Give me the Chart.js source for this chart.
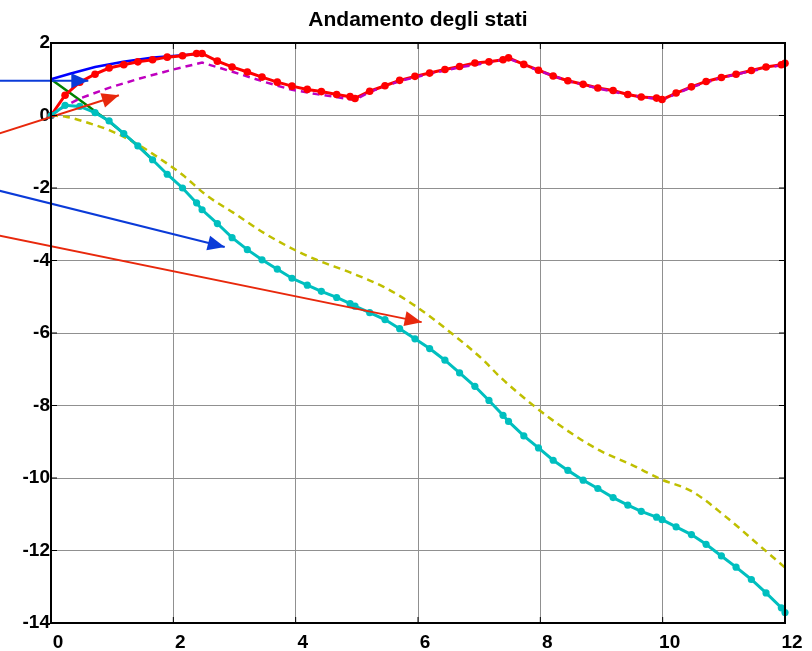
<!DOCTYPE html>
<html>
<head>
<meta charset="utf-8">
<script src="https://cdn.jsdelivr.net/npm/chart.js@4/dist/chart.umd.min.js"></script>
<style>
  html, body { margin: 0; padding: 0; background: #fff; }
  #c { display: block; }
</style>
</head>
<body>
<canvas id="c" width="812" height="651"></canvas>
<script>
// ---- data ----
const titleText = 'Andamento degli stati';
const xTicks = [0, 2, 4, 6, 8, 10, 12];
const yTicks = [-14, -12, -10, -8, -6, -4, -2, 0, 2];

// solver time grid (marker positions)
const tGrid = [0,0.23,0.47,0.72,0.95,1.19,1.42,1.66,1.90,2.15,2.38,2.47,2.72,2.96,3.21,3.45,3.70,3.94,4.19,4.42,4.67,4.89,4.97,5.21,5.46,5.70,5.95,6.19,6.44,6.68,6.93,7.16,7.39,7.48,7.73,7.97,8.21,8.45,8.70,8.94,9.19,9.43,9.65,9.90,9.99,10.22,10.47,10.71,10.96,11.20,11.45,11.69,11.94,12.0];
// red state with markers
const redVals = [0,0.56,0.92,1.14,1.31,1.40,1.48,1.54,1.61,1.65,1.71,1.71,1.50,1.34,1.20,1.06,0.92,0.81,0.72,0.66,0.58,0.52,0.47,0.67,0.82,0.97,1.08,1.17,1.27,1.35,1.45,1.48,1.54,1.59,1.41,1.25,1.09,0.96,0.86,0.76,0.69,0.58,0.51,0.48,0.44,0.62,0.79,0.94,1.05,1.14,1.24,1.34,1.40,1.44];
// cyan state with markers
const cyanVals = [0,0.28,0.25,0.08,-0.15,-0.50,-0.84,-1.22,-1.62,-2.00,-2.41,-2.60,-2.98,-3.37,-3.70,-3.98,-4.24,-4.49,-4.68,-4.85,-5.02,-5.19,-5.26,-5.44,-5.63,-5.88,-6.16,-6.43,-6.75,-7.10,-7.47,-7.86,-8.27,-8.44,-8.84,-9.17,-9.51,-9.79,-10.06,-10.29,-10.54,-10.75,-10.92,-11.08,-11.15,-11.35,-11.56,-11.83,-12.15,-12.46,-12.80,-13.17,-13.58,-13.71];

// blue solid
const blueX = [0,0.31,0.72,1.18,1.67,2.15,2.47];
const blueY = [1.0,1.15,1.34,1.48,1.60,1.66,1.71];
// green solid
const greenX = [0,0.47,0.96,1.19,1.42,1.66];
const greenY = [1.0,0.43,-0.18,-0.50,-0.84,-1.22];
// magenta dashed
const magX = [0,0.2,0.47,0.96,1.45,2.0,2.47,2.98,3.5,3.94,4.34,4.97,5.21,5.70,6.19,6.68,7.16,7.48,7.97,8.45,8.94,9.43,9.99,10.47,10.96,11.45,11.94,12.0];
const magY = [0,0.23,0.47,0.77,1.02,1.27,1.46,1.20,0.92,0.71,0.59,0.43,0.65,0.95,1.15,1.33,1.46,1.57,1.24,0.95,0.75,0.57,0.43,0.78,1.04,1.23,1.39,1.43];
// yellow dashed
const yelX = [0,0.26,0.64,0.96,1.40,1.78,2.16,2.54,2.98,3.52,4.07,4.34,4.89,5.43,5.98,6.52,7.07,7.34,7.88,8.43,8.97,9.51,9.95,10.49,11.04,11.58,12.0];
const yelY = [0,-0.04,-0.22,-0.41,-0.78,-1.19,-1.65,-2.20,-2.68,-3.28,-3.78,-3.98,-4.33,-4.72,-5.28,-5.97,-6.75,-7.21,-7.99,-8.68,-9.24,-9.65,-10.02,-10.38,-11.08,-11.86,-12.47];

// arrows (start, tip)
const arrow1X = [-1.0, 0.61];  const arrow1Y = [0.96, 0.96];
const arrow2X = [-1.0, 1.11];  const arrow2Y = [-0.58, 0.56];
const arrow3X = [-1.0, 2.84];  const arrow3Y = [-2.01, -3.63];
const arrow4X = [-1.0, 6.06];  const arrow4Y = [-3.26, -5.70];

// ---- helpers ----
const pts = (xs, ys) => xs.map((x, i) => ({ x: x, y: ys[i] }));

const C_RED = '#ff0000', C_CYAN = '#00bfbf', C_BLUE = '#0000ff', C_GREEN = '#008000',
      C_MAG = '#bf00bf', C_YEL = '#bfbf00', C_ARB = '#0b3bd8', C_ARR = '#e8280c';

function lineDs(data, color, width, extra) {
  return Object.assign({
    data: data, showLine: true, borderColor: color, backgroundColor: color,
    borderWidth: width, pointRadius: 0, pointHoverRadius: 0, tension: 0, clip: false
  }, extra || {});
}

const datasets = [
  lineDs(pts(blueX, blueY), C_BLUE, 2.5, { order: 9 }),
  lineDs(pts(greenX, greenY), C_GREEN, 2.5, { order: 9 }),
  lineDs(pts(yelX, yelY), C_YEL, 2.5, { order: 8, borderDash: [7, 5], cubicInterpolationMode: 'monotone' }),
  lineDs(pts(tGrid, redVals), C_RED, 3, { order: 7 }),
  lineDs(pts(magX, magY), C_MAG, 2.5, { order: 6, borderDash: [7, 5] }),
  lineDs(pts(tGrid, redVals), C_RED, 0, { order: 5, showLine: false, pointRadius: 3.8, pointBorderWidth: 0 }),
  lineDs(pts(tGrid, cyanVals), C_CYAN, 3, { order: 4, pointRadius: 3.6, pointBorderWidth: 0 }),
  lineDs(pts(arrow1X, arrow1Y), C_ARB, 2, { order: 1, arrow: true }),
  lineDs(pts(arrow2X, arrow2Y), C_ARR, 2, { order: 1, arrow: true }),
  lineDs(pts(arrow3X, arrow3Y), C_ARB, 2, { order: 1, arrow: true }),
  lineDs(pts(arrow4X, arrow4Y), C_ARR, 2, { order: 1, arrow: true })
];

const framePlugin = {
  id: 'frame',
  beforeDraw(chart) {
    const ctx = chart.ctx;
    ctx.save();
    ctx.fillStyle = '#fff';
    ctx.fillRect(0, 0, chart.width, chart.height);
    ctx.restore();
  },
  afterDatasetsDraw(chart) {
    const ctx = chart.ctx;
    chart.data.datasets.forEach((ds, i) => {
      if (!ds.arrow) return;
      const meta = chart.getDatasetMeta(i);
      const n = meta.data.length;
      const p0 = meta.data[n - 2], p1 = meta.data[n - 1];
      const ang = Math.atan2(p1.y - p0.y, p1.x - p0.x);
      const L = 17, W = 7.5;
      ctx.save();
      ctx.translate(p1.x, p1.y);
      ctx.rotate(ang);
      ctx.beginPath();
      ctx.moveTo(0, 0);
      ctx.lineTo(-L, -W);
      ctx.lineTo(-L, W);
      ctx.closePath();
      ctx.fillStyle = ds.borderColor;
      ctx.fill();
      ctx.restore();
    });
  },
  afterDraw(chart) {
    const ctx = chart.ctx;
    const a = chart.chartArea;
    const xs = chart.scales.x, ys = chart.scales.y;
    ctx.save();
    ctx.strokeStyle = '#000';
    ctx.lineWidth = 1;
    ctx.beginPath();
    xTicks.forEach(v => {
      const px = xs.getPixelForValue(v);
      ctx.moveTo(px, a.bottom); ctx.lineTo(px, a.bottom - 6);
      ctx.moveTo(px, a.top); ctx.lineTo(px, a.top + 6);
    });
    yTicks.forEach(v => {
      const py = ys.getPixelForValue(v);
      ctx.moveTo(a.left, py); ctx.lineTo(a.left + 6, py);
      ctx.moveTo(a.right, py); ctx.lineTo(a.right - 6, py);
    });
    ctx.stroke();
    ctx.lineWidth = 2;
    ctx.strokeRect(a.left, a.top, a.right - a.left, a.bottom - a.top);
    ctx.restore();
  }
};

const tickFont = { family: "'Liberation Sans', Arial, sans-serif", size: 19, weight: 'bold' };

new Chart(document.getElementById('c'), {
  type: 'scatter',
  data: { datasets: datasets },
  options: {
    responsive: false,
    animation: false,
    events: [],
    layout: { padding: { left: 0, right: 27, top: 0, bottom: 0 } },
    plugins: {
      legend: { display: false },
      tooltip: { enabled: false },
      title: {
        display: true, text: titleText, color: '#000', fullSize: false,
        font: { family: "'Liberation Sans', Arial, sans-serif", size: 21, weight: 'bold' },
        padding: { top: 8, bottom: 9.8 }
      }
    },
    scales: {
      x: {
        type: 'linear', min: 0, max: 12,
        afterBuildTicks: s => { s.ticks = xTicks.map(v => ({ value: v })); },
        afterFit: s => { s.height = 28; },
        ticks: { color: '#000', font: tickFont, padding: 8, labelOffset: 7, maxRotation: 0 },
        grid: { color: '#909090', lineWidth: 1, drawTicks: false },
        border: { color: '#000', width: 2 }
      },
      y: {
        type: 'linear', min: -14, max: 2,
        afterBuildTicks: s => { s.ticks = yTicks.map(v => ({ value: v })); },
        afterFit: s => { s.width = 51; },
        ticks: { color: '#000', font: tickFont, padding: 1 },
        grid: { color: '#909090', lineWidth: 1, drawTicks: false },
        border: { color: '#000', width: 2 }
      }
    }
  },
  plugins: [framePlugin]
});
</script>
</body>
</html>
